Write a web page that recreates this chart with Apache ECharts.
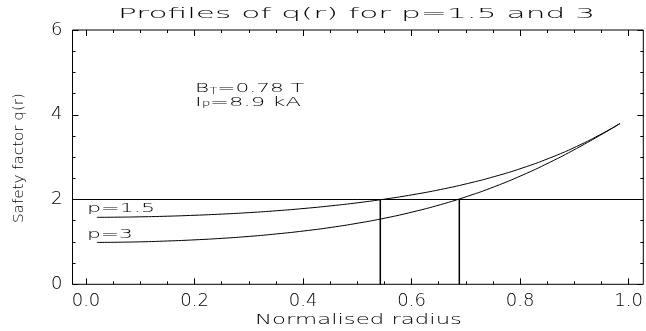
<!DOCTYPE html>
<html>
<head>
<meta charset="utf-8">
<script src="https://cdn.jsdelivr.net/npm/echarts@6/dist/echarts.min.js"></script>
<style>html,body{margin:0;padding:0;background:#fff}#c{width:646px;height:331px}</style>
</head>
<body>
<div id="c"></div>
<script>
// ---- data ----
const titleText = 'Profiles of q(r) for p=1.5 and 3';
const xName = 'Normalised radius';
const yName = 'Safety factor q(r)';
const rValues = [0.02,0.05,0.10,0.15,0.20,0.25,0.30,0.35,0.40,0.45,0.50,0.55,0.60,0.65,0.70,0.75,0.80,0.85,0.90,0.95,0.98];
const q15 = [1.580,1.583,1.592,1.607,1.629,1.657,1.692,1.736,1.789,1.852,1.926,2.013,2.115,2.235,2.377,2.544,2.741,2.975,3.251,3.576,3.795];
const q3  = [0.988,0.991,1.002,1.022,1.049,1.085,1.131,1.189,1.259,1.343,1.445,1.565,1.709,1.878,2.076,2.306,2.571,2.871,3.204,3.565,3.794];
const crossR = [0.54, 0.685];
const qLevel = 2;
const seriesLabels = ['p=1.5', 'p=3'];
const annotB = ['B', 'T', '=0.78 T'];
const annotI = ['I', 'P', '=8.9 kA'];

// ---- layout helpers ----
const mctx = document.createElement('canvas').getContext('2d');
function tw(text, font){ mctx.font = font; return mctx.measureText(text).width; }
const FF = "'DejaVu Sans'";
const FW = '200 ';
function txt(text, x, y, width, size, align, rot){
  const font = FW + size + 'px ' + FF;
  return {type:'text', x:x, y:y, rotation: rot||0, scaleX: width/tw(text,font), silent:true,
    style:{text:text, font:font, fill:'#000', align:align||'center', verticalAlign:'middle',
      textAlign:align||'center', textVerticalAlign:'middle'}};
}
function sub(parts, x, y, width, size, subSize){
  const f = FW + size + 'px ' + FF, fs = FW + subSize + 'px ' + FF;
  const total = tw(parts[0],f) + tw(parts[1],fs) + tw(parts[2],f);
  return {type:'text', x:x, y:y, scaleX: width/total, silent:true,
    style:{text:'{n|'+parts[0]+'}{s|'+parts[1]+'}{n|'+parts[2]+'}', fill:'#000',
      align:'left', verticalAlign:'middle', textAlign:'left', textVerticalAlign:'middle',
      rich:{n:{font:f, fill:'#000', verticalAlign:'bottom'}, s:{font:fs, fill:'#000', verticalAlign:'bottom'}}}};
}

const pts15 = rValues.map((r,i)=>[r,q15[i]]);
const pts3 = rValues.map((r,i)=>[r,q3[i]]);
const lineStyle = {color:'#000', width:1};

const tickCommon = {show:true, inside:true, length:6, lineStyle:{color:'#000', width:1}};
const minorCommon = {show:true, splitNumber:4, length:3, lineStyle:{color:'#000', width:1}};
const labelFont = {fontFamily:"'DejaVu Sans'", fontWeight:200, fontSize:18, color:'#000'};
const noLine = {show:false, onZero:false};

const option = {
  animation:false,
  backgroundColor:'#fff',
  grid:[
    {left:72.5, right:2.7, top:30, bottom:46.7, show:true, borderColor:'#000', borderWidth:1, backgroundColor:'transparent'},
    {left:86, right:15, top:30, bottom:46.7}
  ],
  xAxis:[
    {type:'value', gridIndex:0, min:-0.0248, max:1.0226, show:false, axisLine:noLine},
    {type:'value', gridIndex:1, position:'bottom', min:0, max:1, interval:0.2,
      axisLine:noLine, axisTick:tickCommon, minorTick:minorCommon, splitLine:{show:false},
      axisLabel:Object.assign({margin:8, formatter:v=>v.toFixed(1)}, labelFont)},
    {type:'value', gridIndex:1, position:'top', min:0, max:1, interval:0.2,
      axisLine:noLine, axisTick:tickCommon, minorTick:minorCommon, splitLine:{show:false},
      axisLabel:{show:false}}
  ],
  yAxis:[
    {type:'value', gridIndex:0, position:'left', min:0, max:6, interval:2,
      axisLine:noLine, axisTick:tickCommon, minorTick:minorCommon, splitLine:{show:false},
      axisLabel:Object.assign({margin:10, formatter:v=>String(v)}, labelFont)},
    {type:'value', gridIndex:0, position:'right', min:0, max:6, interval:2,
      axisLine:noLine, axisTick:tickCommon, minorTick:minorCommon, splitLine:{show:false},
      axisLabel:{show:false}},
    {type:'value', gridIndex:1, min:0, max:6, show:false, axisLine:noLine}
  ],
  series:[
    {type:'line', xAxisIndex:0, yAxisIndex:0, data:pts15, symbol:'none', smooth:true, lineStyle:lineStyle,
      markLine:{silent:true, symbol:'none', label:{show:false}, lineStyle:{color:'#000', width:1, type:'solid'}, data:[{yAxis:qLevel}]}},
    {type:'line', xAxisIndex:0, yAxisIndex:0, data:pts3, symbol:'none', smooth:true, lineStyle:lineStyle},
    {type:'line', xAxisIndex:0, yAxisIndex:0, data:[[crossR[0],0],[crossR[0],qLevel]], symbol:'none', lineStyle:{color:'#000', width:1.5}},
    {type:'line', xAxisIndex:0, yAxisIndex:0, data:[[crossR[1],0],[crossR[1],qLevel]], symbol:'none', lineStyle:{color:'#000', width:1.5}}
  ],
  graphic:{elements:[
    txt(titleText, 356.5, 14.5, 477, 14),
    txt(xName, 358.5, 320.5, 207, 14.5),
    txt(yName, 19, 158, 130, 14, 'center', Math.PI/2),
    txt(seriesLabels[0], 87, 209, 68, 13, 'left'),
    txt(seriesLabels[1], 87, 235, 46, 13, 'left'),
    sub(annotB, 195, 89, 109, 13, 8),
    sub(annotI, 195, 103, 106, 13, 8)
  ]}
};
const chart = echarts.init(document.getElementById('c'), null, {renderer:'canvas'});
chart.setOption(option);
</script>
</body>
</html>
